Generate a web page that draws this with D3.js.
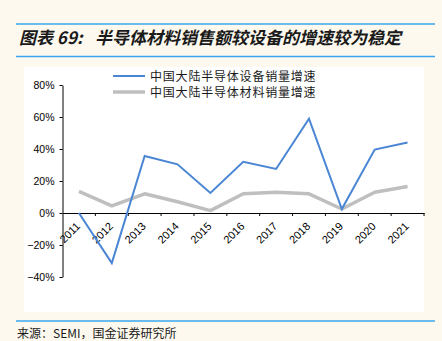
<!DOCTYPE html>
<html>
<head>
<meta charset="utf-8">
<script src="https://cdn.jsdelivr.net/npm/d3@7/dist/d3.min.js"></script>
<style>
  html, body { margin: 0; padding: 0; background: #fdf9ef; }
  svg { display: block; }
</style>
</head>
<body>
<svg id="chart" width="442" height="341"></svg>
<script>
// Yearly growth rates (%) of mainland China semiconductor sales
const years = ["2011", "2012", "2013", "2014", "2015", "2016", "2017", "2018", "2019", "2020", "2021"];
const equipmentGrowth = [0, -31.3, 35.6, 30.4, 12.5, 32, 27.5, 59, 2.5, 39.6, 44];
const materialGrowth = [13.5, 4.5, 12, 7, 1.5, 12, 13, 12, 2.5, 13, 16.5];
const yTicks = [-40, -20, 0, 20, 40, 60, 80];
const seriesNames = ["中国大陆半导体设备销量增速", "中国大陆半导体材料销量增速"];

const svg = d3.select("#chart");
const blueRule = "#3aa6ee";

// header and footer rules
[24, 56.5, 321].forEach(y => {
  svg.append("line")
    .attr("x1", 16).attr("x2", 435).attr("y1", y).attr("y2", y)
    .attr("stroke", blueRule).attr("stroke-width", 1.5);
});

const title = svg.append("text")
  .attr("x", 19).attr("y", 44)
  .attr("font-family", "'Noto Sans CJK SC', sans-serif")
  .attr("font-size", 17).attr("font-weight", 700).attr("font-style", "italic")
  .attr("fill", "#1a1a1a");
title.append("tspan").text("图表 69:");
title.append("tspan").attr("x", 95).text("半导体材料销售额较设备的增速较为稳定");

svg.append("text")
  .attr("x", 17).attr("y", 338)
  .attr("font-family", "'Noto Sans CJK SC', sans-serif")
  .attr("font-size", 12)
  .attr("fill", "#1a1a1a")
  .text("来源：SEMI，国金证券研究所");

// white plotting panel
svg.append("rect")
  .attr("x", 24).attr("y", 67).attr("width", 400).attr("height", 245)
  .attr("fill", "#ffffff");

const x = d3.scaleBand().domain(years).range([62.5, 424]);
const y = d3.scaleLinear().domain([-40, 80]).range([277, 85]);
const cx = d => x(d) + x.bandwidth() / 2;

// y axis
const yAxis = svg.append("g")
  .attr("transform", "translate(62.5,0)")
  .call(d3.axisLeft(y).tickValues(yTicks).tickSize(3).tickSizeOuter(0)
    .tickFormat(d => (d < 0 ? "−" + Math.abs(d) : d) + "%"));
yAxis.selectAll("text")
  .attr("font-family", "Arial, 'Liberation Sans', sans-serif")
  .attr("font-size", 10.5).attr("fill", "#000").attr("dx", -2);
yAxis.selectAll("line,path").attr("stroke", "#000");

// x axis along zero
const xAxis = svg.append("g")
  .attr("transform", `translate(0,${y(0)})`)
  .call(d3.axisBottom(x).tickSize(0).tickSizeOuter(0).tickFormat(""));
xAxis.select(".domain").attr("stroke", "#000");
// tick marks on band boundaries
svg.append("g").selectAll("line")
  .data(years)
  .join("line")
  .attr("x1", d => x(d) + x.step())
  .attr("x2", d => x(d) + x.step())
  .attr("y1", y(0)).attr("y2", y(0) + 3)
  .attr("stroke", "#000");

svg.append("g").selectAll("text")
  .data(years)
  .join("text")
  .attr("transform", d => `translate(${cx(d) + 2},${y(0) + 14}) rotate(-45)`)
  .attr("text-anchor", "end")
  .attr("font-family", "Arial, 'Liberation Sans', sans-serif")
  .attr("font-size", 11)
  .attr("fill", "#000")
  .text(d => d);

const line = d3.line().x((d, i) => cx(years[i])).y(d => y(d));

svg.append("path")
  .datum(materialGrowth)
  .attr("d", line)
  .attr("fill", "none").attr("stroke", "#bfbfbf").attr("stroke-width", 3.5)
  .attr("stroke-linejoin", "round");

svg.append("path")
  .datum(equipmentGrowth)
  .attr("d", line)
  .attr("fill", "none").attr("stroke", "#4a86d4").attr("stroke-width", 2)
  .attr("stroke-linejoin", "miter");

// legend
const legendColors = ["#4a86d4", "#bfbfbf"];
const legendWidths = [2, 3.5];
const legend = svg.append("g");
seriesNames.forEach((name, i) => {
  const ly = 76 + i * 16;
  legend.append("line")
    .attr("x1", 113).attr("x2", 145).attr("y1", ly).attr("y2", ly)
    .attr("stroke", legendColors[i]).attr("stroke-width", legendWidths[i]);
  legend.append("text")
    .attr("x", 150).attr("y", ly + 4.5)
    .attr("font-family", "'Noto Sans CJK SC', sans-serif")
    .attr("font-size", 12)
    .attr("letter-spacing", 0.8)
    .attr("fill", "#1a1a1a")
    .text(name);
});
</script>
</body>
</html>
